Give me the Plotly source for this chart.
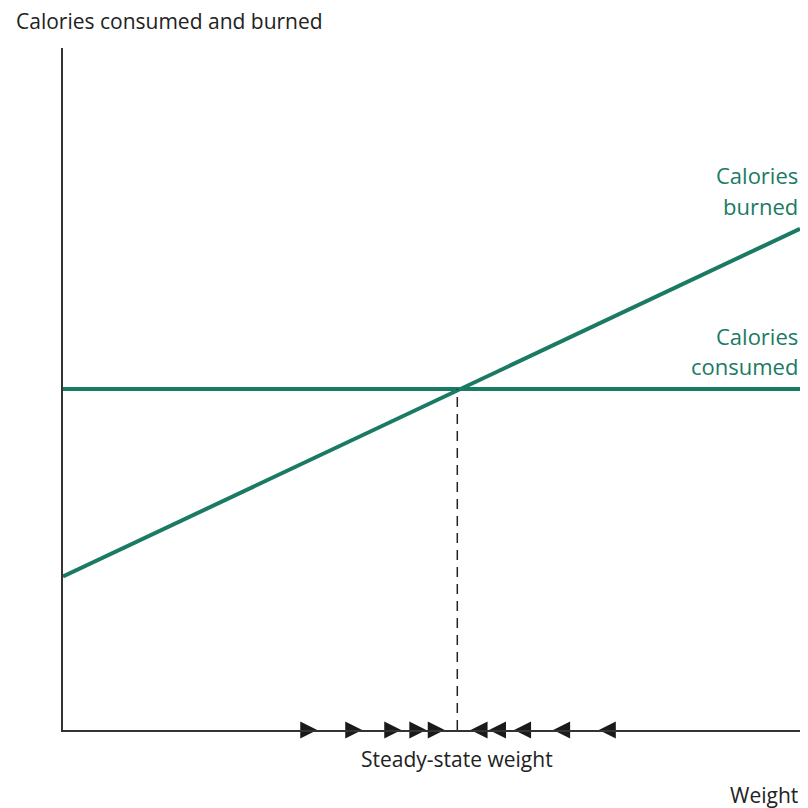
import plotly.graph_objects as go

# Data (arbitrary units: weight 0-100, calories 0-100)
weight_ends = [0, 100]
calories_consumed = [50, 50]
calories_burned = [22.5, 73.5]
steady_state_weight = 53.5
arrows_right_x = [34.5, 40.6, 45.9, 49.3, 51.8]   # arrow tips
arrows_left_x = [55.3, 57.8, 61.2, 66.5, 72.7]    # arrow tips

TEAL = "#1b7a64"
DARK = "#222222"
FONT = "Open Sans"

fig = go.Figure()
fig.add_trace(go.Scatter(x=weight_ends, y=calories_consumed, mode="lines",
                         line=dict(color=TEAL, width=4), hoverinfo="skip"))
fig.add_trace(go.Scatter(x=weight_ends, y=calories_burned, mode="lines",
                         line=dict(color=TEAL, width=4), hoverinfo="skip"))
fig.add_trace(go.Scatter(x=[steady_state_weight, steady_state_weight], y=[0, 50], mode="lines",
                         line=dict(color="#222", width=1.5, dash="10px,7px"), hoverinfo="skip"))
fig.add_trace(go.Scatter(x=arrows_right_x, y=[0]*len(arrows_right_x), mode="markers",
                         marker=dict(symbol="arrow-right", size=17, color="#1a1a1a",
                                     line=dict(width=0)), cliponaxis=False, hoverinfo="skip"))
fig.add_trace(go.Scatter(x=arrows_left_x, y=[0]*len(arrows_left_x), mode="markers",
                         marker=dict(symbol="arrow-left", size=17, color="#1a1a1a",
                                     line=dict(width=0)), cliponaxis=False, hoverinfo="skip"))

# page body has an 8px margin, so the figure is 800x800 placed at (8, 8)
fig.update_layout(
    width=800, height=800, showlegend=False,
    plot_bgcolor="white", paper_bgcolor="white",
    margin=dict(l=55, r=8, t=40, b=78),
    font=dict(family=FONT, color=DARK, size=21),
    xaxis=dict(range=[0, 100], showgrid=False, zeroline=False, showticklabels=False,
               ticks="", showline=True, linecolor="#333", linewidth=2, fixedrange=True),
    yaxis=dict(range=[0, 100], showgrid=False, zeroline=False, showticklabels=False,
               ticks="", showline=True, linecolor="#333", linewidth=2, fixedrange=True),
)

fig.add_annotation(text="Calories consumed and burned", xref="paper", yref="paper",
                   x=0, y=1, xshift=-49, yshift=27, xanchor="left", yanchor="middle",
                   showarrow=False, font=dict(size=21, color=DARK))
fig.add_annotation(text="Weight", xref="paper", yref="paper", x=1, y=0, yshift=-65,
                   xanchor="right", yanchor="middle", showarrow=False, font=dict(size=21, color=DARK))
fig.add_annotation(text="Steady-state weight", x=steady_state_weight, y=0, yshift=-29,
                   xanchor="center", yanchor="middle", showarrow=False, font=dict(size=21, color=DARK))

labels = [("Calories", calories_burned[1], 54), ("burned", calories_burned[1], 23),
          ("Calories", calories_consumed[1], 53), ("consumed", calories_consumed[1], 23)]
for txt, yv, ys in labels:
    fig.add_annotation(text=txt, x=100, y=yv, yshift=ys, xanchor="right", yanchor="middle",
                       showarrow=False, font=dict(size=22, color=TEAL))

fig.write_html("out.html")
